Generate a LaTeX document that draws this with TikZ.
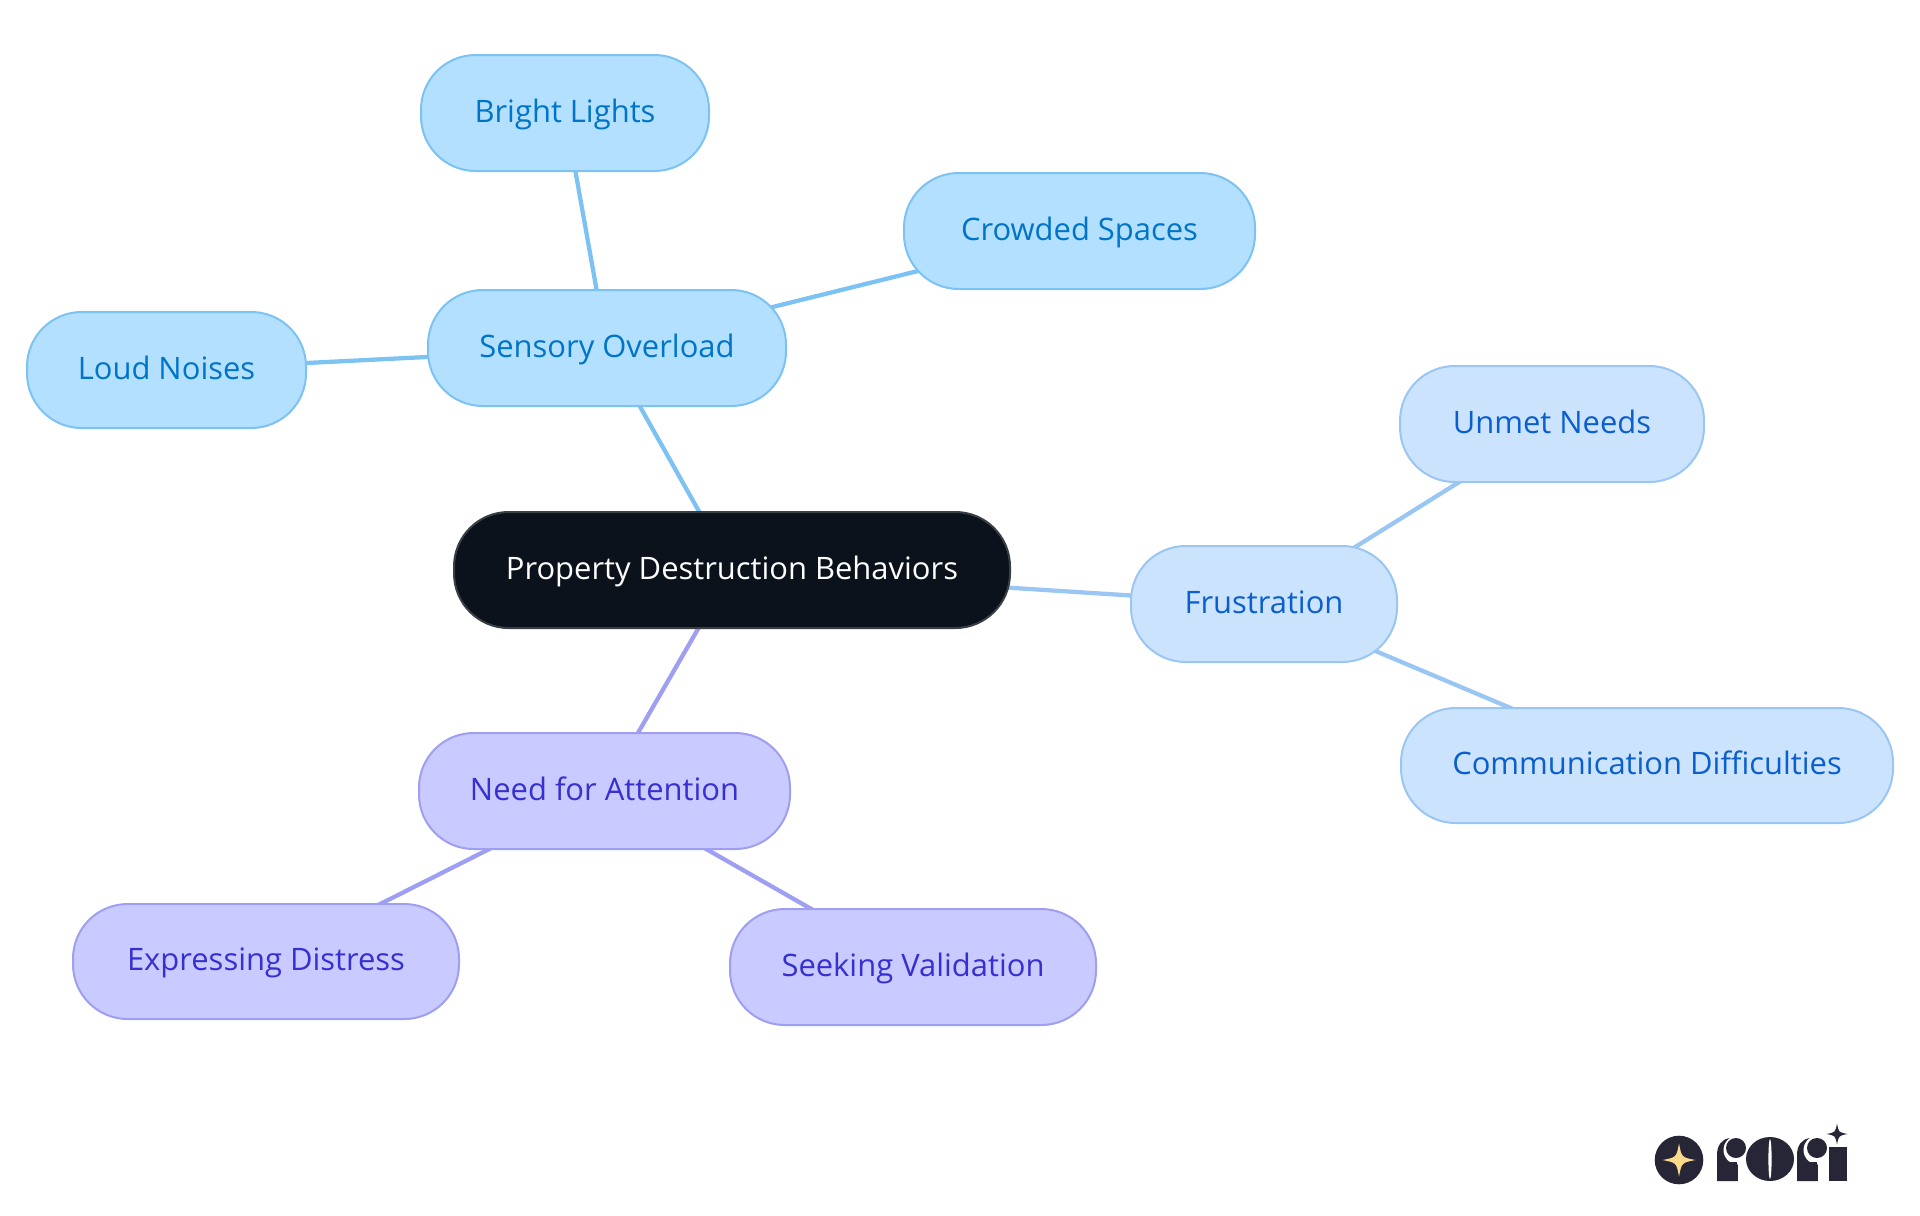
\documentclass[tikz,border=0pt]{standalone}
\usepackage{fontspec}
\setmainfont{Open Sans}
\usetikzlibrary{backgrounds}
\definecolor{bluefill}{HTML}{B3E0FF}
\definecolor{blueline}{HTML}{7CC2F3}
\definecolor{bluetext}{HTML}{0074C7}
\definecolor{midfill}{HTML}{CCE3FD}
\definecolor{midline}{HTML}{99C6F3}
\definecolor{midtext}{HTML}{0A5FCC}
\definecolor{purpfill}{HTML}{C9CAFF}
\definecolor{purpline}{HTML}{9E9FF2}
\definecolor{purptext}{HTML}{3730D0}
\definecolor{rootfill}{HTML}{0B121B}
\definecolor{rootline}{HTML}{3A3F45}
\definecolor{logodark}{HTML}{272636}
\definecolor{logogold}{HTML}{FBD98B}
\tikzset{
  x=0.75pt,y=-0.75pt,
  pill/.style={rounded corners=41pt,line width=1.5pt,text height=18.8pt,text depth=5pt,font=\fontsize{23.2}{27}\selectfont},
  bluepill/.style={pill,draw=blueline,fill=bluefill,text=bluetext},
  midpill/.style={pill,draw=midline,fill=midfill,text=midtext},
  purppill/.style={pill,draw=purpline,fill=purpfill,text=purptext},
  rootpill/.style={pill,draw=rootline,fill=rootfill,text=white},
  edge/.style={line width=3.2pt},
  darkfill/.style={fill=logodark,draw=none},
}
\newcommand{\pillnode}[7]{% style,name,x0,y0,x1,y1,text
  \node[#1,minimum width={(#5-#3)*0.75pt},minimum height={(#6-#4)*0.75pt},inner sep=0pt,anchor=center] (#2) at ({(#3+#5)/2},{(#4+#6)/2}) {#7};}
\newcommand{\sparkle}[4]{% x,y,arm,color
  \fill[#4] (#1-#3,#2) .. controls (#1-0.16*#3,#2-0.16*#3) .. (#1,#2-#3)
    .. controls (#1+0.16*#3,#2-0.16*#3) .. (#1+#3,#2)
    .. controls (#1+0.16*#3,#2+0.16*#3) .. (#1,#2+#3)
    .. controls (#1-0.16*#3,#2+0.16*#3) .. cycle;}
\begin{document}
\begin{tikzpicture}
\useasboundingbox (0,0) rectangle (1920,1215);
\pillnode{rootpill}{root}{454}{512}{1010}{628}{Property Destruction Behaviors}
\pillnode{bluepill}{sensory}{428}{290}{786}{406}{Sensory Overload}
\pillnode{bluepill}{bright}{421}{55}{709}{171}{Bright Lights}
\pillnode{bluepill}{crowded}{904}{173}{1255}{289}{Crowded Spaces}
\pillnode{bluepill}{loud}{27}{312}{306}{428}{Loud Noises}
\pillnode{midpill}{frustration}{1131}{546}{1397}{662}{Frustration}
\pillnode{midpill}{unmet}{1400}{366}{1704}{482}{Unmet Needs}
\pillnode{midpill}{comm}{1401}{708}{1893}{823}{Communication Difficulties}
\pillnode{purppill}{need}{419}{733}{790}{849}{Need for Attention}
\pillnode{purppill}{express}{73}{904}{459}{1019}{Expressing Distress}
\pillnode{purppill}{seeking}{730}{909}{1096}{1025}{Seeking Validation}
\begin{scope}[on background layer]
  \draw[edge,blueline] (root.center) -- (sensory.center);
  \draw[edge,blueline] (sensory.center) -- (bright.center);
  \draw[edge,blueline] (sensory.center) -- (crowded.center);
  \draw[edge,blueline] (sensory.center) -- (loud.center);
  \draw[edge,midline] (root.center) -- (frustration.center);
  \draw[edge,midline] (frustration.center) -- (unmet.center);
  \draw[edge,midline] (frustration.center) -- (comm.center);
  \draw[edge,purpline] (root.center) -- (need.center);
  \draw[edge,purpline] (need.center) -- (express.center);
  \draw[edge,purpline] (need.center) -- (seeking.center);
\end{scope}
% logo
\fill[logodark] (1679,1160) circle [radius=24.3];
\sparkle{1679}{1160}{16.5}{logogold}
\path[darkfill] (1717,1181) -- (1717,1155) .. controls (1717,1145) and (1722,1139) .. (1730,1138) -- (1745,1138) -- (1745,1181) -- (1737,1181) -- cycle;
\fill[white] (1738,1150) circle [radius=14.5];
\path[darkfill] (1725,1162) rectangle (1737,1181);
\fill[logodark] (1736,1148) circle [radius=10];
\fill[white] (1737.5,1158.5) rectangle (1746,1183);
\path[darkfill] (1770,1159) ellipse [x radius=24,y radius=22];
\fill[white] (1770,1159) ellipse [x radius=1.6,y radius=20];
\path[darkfill] (1797,1181) -- (1797,1155) .. controls (1797,1145) and (1802,1139) .. (1810,1138) -- (1825,1138) -- (1825,1181) -- (1817,1181) -- cycle;
\fill[white] (1818,1150) circle [radius=14.5];
\path[darkfill] (1805,1162) rectangle (1817,1181);
\fill[logodark] (1817,1148) circle [radius=10];
\fill[white] (1817.5,1158.5) rectangle (1827,1183);
\path[darkfill] (1829,1181) -- (1829,1147) -- (1847,1147) -- (1847,1181) -- cycle;
\fill[white] (1837,1134) circle [radius=13];
\sparkle{1837}{1134}{10.5}{logodark}
\end{tikzpicture}
\end{document}
